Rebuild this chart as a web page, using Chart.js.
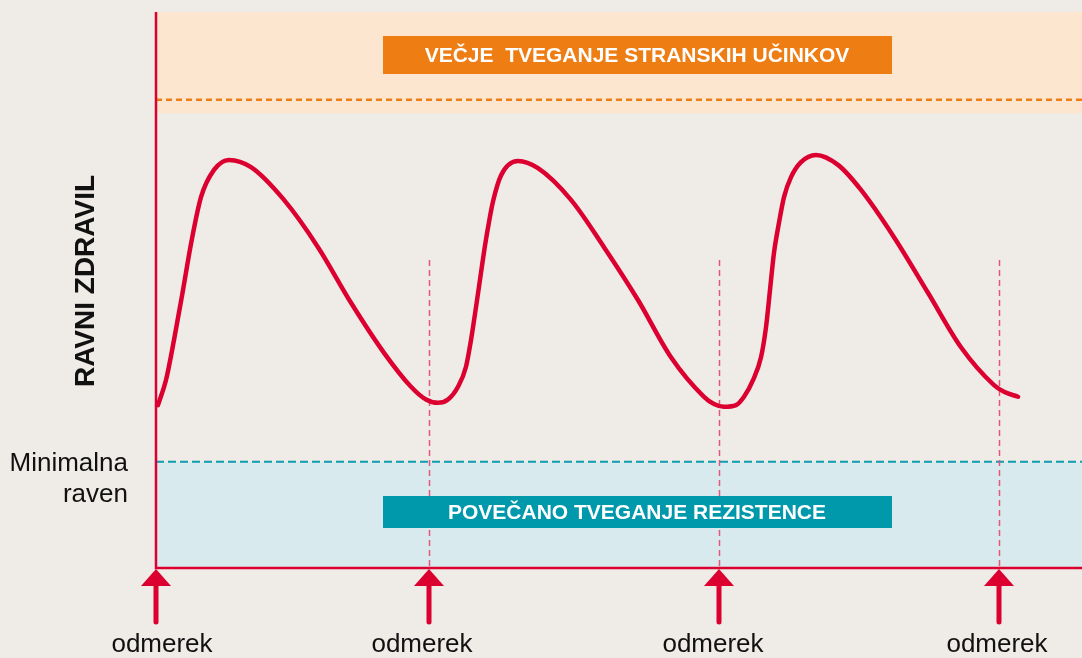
<!DOCTYPE html>
<html>
<head>
<meta charset="utf-8">
<script src="https://cdn.jsdelivr.net/npm/chart.js@4/dist/chart.umd.min.js"></script>
<style>
  body { margin: 0; background: #efebe6; }
  #wrap { width: 1082px; height: 658px; }
</style>
</head>
<body>
<div id="wrap"><canvas id="levelChart" width="1082" height="658"></canvas></div>
<script>
// time (arbitrary units) and drug level (0-100 of the plot height)
const timeValues = [2, 10, 18, 27, 35, 45, 58, 73, 95, 128, 162, 195, 228, 255, 270, 282,
  292, 302, 310, 315, 320, 325, 328, 332, 337, 345, 362, 382, 415, 448, 482, 515, 548, 558, 568,
  580, 588, 597, 605, 610, 614, 618, 623, 628, 635, 645, 660, 682, 705, 738, 772, 805, 838, 848, 862];
const levelValues = [29.3, 33.8, 41.0, 50.0, 58.3, 66.7, 71.6, 73.4, 72.1, 66.2, 57.7, 47.7, 38.7, 32.6, 30.3, 29.7,
  30.3, 32.6, 36.2, 41.0, 46.9, 53.1, 56.8, 61.2, 65.9, 70.6, 73.2, 71.9, 66.2, 57.7, 48.2, 37.9, 30.8, 29.5, 29.0,
  29.3, 30.8, 33.8, 37.9, 43.3, 50.0, 56.7, 62.1, 66.7, 70.3, 73.0, 74.3, 72.5, 68.0, 59.5, 49.5, 39.7, 32.9, 31.7, 30.8];

const doseTimes = [0, 273, 563, 843];
const doseLabel = "odmerek";
const minLevel = 19.1;        // Minimalna raven
const sideEffectLevel = 84.2; // dashed orange line
const sideBandBottom = 81.8;
const doseLineTop = 55.4;

const topBoxText = "VEČJE  TVEGANJE STRANSKIH UČINKOV";
const bottomBoxText = "POVEČANO TVEGANJE REZISTENCE";

const red = "#dc0030";
const font = "'Liberation Sans', Arial, sans-serif";
const labelShift = [6, -7, -6, -2];

const decorations = {
  id: "decorations",
  beforeDatasetsDraw(chart) {
    const { ctx, chartArea: a, scales: { x, y } } = chart;
    ctx.save();
    // bands
    ctx.fillStyle = "#fde6d0";
    ctx.fillRect(a.left, y.getPixelForValue(100), a.right - a.left, y.getPixelForValue(sideBandBottom) - y.getPixelForValue(100));
    ctx.fillStyle = "#d8eaee";
    ctx.fillRect(a.left, y.getPixelForValue(minLevel), a.right - a.left, y.getPixelForValue(0) - y.getPixelForValue(minLevel));

    // dashed thresholds
    ctx.lineWidth = 2.5;
    ctx.strokeStyle = "#ee7d14";
    ctx.setLineDash([6, 4]);
    let py = y.getPixelForValue(sideEffectLevel);
    ctx.beginPath(); ctx.moveTo(a.left, py); ctx.lineTo(a.right, py); ctx.stroke();
    ctx.lineWidth = 2;
    ctx.strokeStyle = "#0f9cb0";
    ctx.setLineDash([8, 4]);
    py = y.getPixelForValue(minLevel);
    ctx.beginPath(); ctx.moveTo(a.left, py); ctx.lineTo(a.right, py); ctx.stroke();

    // dose dashed lines
    ctx.lineWidth = 1.5;
    ctx.strokeStyle = "#e5557a";
    ctx.setLineDash([6, 4]);
    doseTimes.slice(1).forEach(t => {
      const px = Math.round(x.getPixelForValue(t)) + 0.5;
      ctx.beginPath(); ctx.moveTo(px, y.getPixelForValue(doseLineTop)); ctx.lineTo(px, y.getPixelForValue(0)); ctx.stroke();
    });
    ctx.setLineDash([]);

    // label boxes
    ctx.fillStyle = "#ee7d14";
    ctx.fillRect(383, 36, 509, 38);
    ctx.fillStyle = "#0098ab";
    ctx.fillRect(383, 496, 509, 32);
    ctx.fillStyle = "#ffffff";
    ctx.font = "bold 21px " + font;
    ctx.textAlign = "center";
    ctx.textBaseline = "middle";
    ctx.fillText(topBoxText, 637, 56);
    ctx.fillText(bottomBoxText, 637, 513);
    ctx.restore();
  },
  afterDraw(chart) {
    const { ctx, chartArea: a, scales: { x, y } } = chart;
    ctx.save();
    // axes
    ctx.strokeStyle = red;
    ctx.lineWidth = 2.5;
    ctx.beginPath();
    ctx.moveTo(a.left, y.getPixelForValue(100));
    ctx.lineTo(a.left, y.getPixelForValue(0));
    ctx.lineTo(a.right, y.getPixelForValue(0));
    ctx.stroke();

    // arrows + labels
    const base = y.getPixelForValue(0);
    doseTimes.forEach((t, i) => {
      const px = x.getPixelForValue(t);
      ctx.fillStyle = red;
      ctx.beginPath();
      ctx.moveTo(px, base + 1);
      ctx.lineTo(px - 15, base + 18);
      ctx.lineTo(px + 15, base + 18);
      ctx.closePath();
      ctx.fill();
      ctx.strokeStyle = red;
      ctx.lineWidth = 5;
      ctx.lineCap = "round";
      ctx.beginPath();
      ctx.moveTo(px, base + 14);
      ctx.lineTo(px, base + 54);
      ctx.stroke();
      ctx.fillStyle = "#111111";
      ctx.font = "26px " + font;
      ctx.textAlign = "center";
      ctx.textBaseline = "middle";
      ctx.fillText(doseLabel, px + labelShift[i], 645);
    });

    // minimum level label
    ctx.textAlign = "right";
    ctx.fillText("Minimalna", 128, 464);
    ctx.fillText("raven", 128, 495);

    // y title
    ctx.translate(86, 281);
    ctx.rotate(-Math.PI / 2);
    ctx.textAlign = "center";
    ctx.font = "bold 28px " + font;
    ctx.fillText("RAVNI ZDRAVIL", 0, 0);
    ctx.restore();
  }
};

new Chart(document.getElementById("levelChart").getContext("2d"), {
  type: "line",
  data: {
    datasets: [{
      data: timeValues.map((t, i) => ({ x: t, y: levelValues[i] })),
      borderColor: red,
      borderWidth: 4.5,
      borderCapStyle: "round",
      pointRadius: 0,
      cubicInterpolationMode: "monotone",
      fill: false
    }]
  },
  options: {
    responsive: false,
    animation: false,
    layout: { padding: { left: 156, top: 12, right: 0, bottom: 90 } },
    plugins: { legend: { display: false }, tooltip: { enabled: false } },
    scales: {
      x: { type: "linear", min: 0, max: 926, display: false },
      y: { min: 0, max: 100, display: false }
    }
  },
  plugins: [decorations]
});
</script>
</body>
</html>
